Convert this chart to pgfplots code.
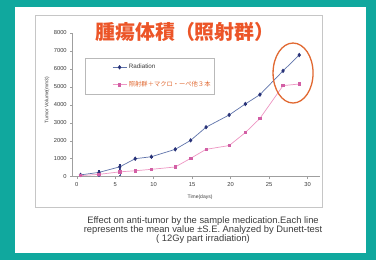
\documentclass[border=0pt]{standalone}
\usepackage{pgfplots}
\pgfplotsset{compat=1.18}
\usepackage{fontspec}
\setmainfont{Liberation Sans}
\newfontfamily\cjk{Noto Sans CJK JP}
\definecolor{teal1}{RGB}{16,168,158}
\definecolor{navy}{RGB}{40,50,120}
\definecolor{bline}{RGB}{95,115,170}
\definecolor{pinkm}{RGB}{210,95,165}
\definecolor{pinkl}{RGB}{238,150,195}
\definecolor{orng}{RGB}{225,105,50}
\definecolor{titlec}{RGB}{236,85,40}
\definecolor{txt}{RGB}{60,60,60}
\pgfplotstableread{
x y e
0.5 100 0
2.9 240 130
5.6 550 160
7.6 1000 0
9.7 1110 0
12.8 1520 0
14.8 2020 0
16.8 2750 0
19.8 3430 0
21.9 4040 0
23.8 4560 0
26.8 5880 0
28.9 6760 0
}\radtab
\pgfplotstableread{
x y e
0.5 60 0
2.9 130 100
5.6 270 180
7.6 330 0
9.7 410 0
12.8 540 0
14.8 1020 0
16.8 1520 0
19.8 1730 0
21.9 2450 0
23.8 3240 0
26.8 5060 0
28.9 5150 0
}\comtab
\begin{document}
\begin{tikzpicture}
\fill[teal1] (0bp,0bp) rectangle (376bp,260bp);
\fill[white] (15bp,7bp) rectangle (366bp,253bp);
\draw[gray!45, line width=0.6bp] (35bp,53bp) rectangle (322bp,245bp);
\begin{axis}[
 at={(72.7bp,83.3bp)}, anchor=south west,
 scale only axis, width=247.3bp, height=144bp,
 xmin=-0.52, xmax=31.6, ymin=0, ymax=8000,
 axis x line*=bottom, axis y line*=left,
 axis line style={gray!75, line width=0.5bp},
 xtick={0,5,...,30}, ytick={0,1000,...,8000},
 tick style={gray!75, line width=0.4bp}, major tick length=2.5bp,
 tick align=outside,
 ticklabel style={font=\fontsize{5.8}{6.5}\selectfont, text=txt},
 /pgf/number format/assume math mode=true,
 scaled y ticks=false,
 yticklabel style={/pgf/number format/1000 sep={}},
 xlabel={Time(days)},
 ylabel={Tumor Volume(mm3)},
 xlabel style={at={(axis description cs:0.515,0)}, anchor=center, yshift=-20.3bp, font=\fontsize{5}{5.5}\selectfont, text=txt},
 ylabel style={at={(axis description cs:-0.104,0.533)}, anchor=center, font=\fontsize{5}{5.5}\selectfont, text=txt},
 legend style={at={(0.0497,0.824)}, anchor=north west, draw=gray!55, line width=0.5bp,
   font=\fontsize{6.3}{7}\selectfont, inner xsep=2bp, inner ysep=4bp, row sep=7bp, text=txt},
 legend cell align=left,
 legend image code/.code={\path (-25bp,0bp) (14bp,0bp);
   \draw[mark repeat=2,mark phase=2,#1] plot coordinates {(0bp,0bp) (7bp,0bp) (14bp,0bp)};},
 clip=false,
]
\addplot[bline, line width=0.7bp, mark=diamond*, mark size=1.7bp,
  mark options={navy, fill=navy, solid},
  error bars/.cd, y dir=both, y explicit, error bar style={navy, line width=0.4bp}, error mark options={navy, mark size=1.2bp, rotate=90}]
  table[x=x, y=y, y error=e] {\radtab};
\addlegendentry{Radiation}
\addplot[pinkl, line width=0.7bp, mark=square*, mark size=1.2bp,
  mark options={pinkm, fill=pinkm, solid},
  error bars/.cd, y dir=both, y explicit, error bar style={navy!80, line width=0.4bp}, error mark options={navy!80, mark size=1.2bp, rotate=90}]
  table[x=x, y=y, y error=e] {\comtab};
\addlegendentry{\textcolor{orng}{\cjk 照射群＋マクロ・ーペ他３本}}
\draw[orng, line width=1.3bp] (axis cs:28.1,5760) ellipse [x radius=20bp, y radius=30bp];
\end{axis}
\node[text=titlec, font=\cjk\bfseries\fontsize{20}{22}\selectfont, inner sep=0pt] at (185bp,228bp) {腫瘍体積（照射群）};
\node[text=txt, align=center, font=\fontsize{9.4}{9}\selectfont, inner sep=0pt] at (203bp,30bp)
 {Effect on anti-tumor by the sample medication.Each line\\
  represents the mean value ±S.E. Analyzed by Dunett-test\\
  ( 12Gy part irradiation)};
\end{tikzpicture}
\end{document}
